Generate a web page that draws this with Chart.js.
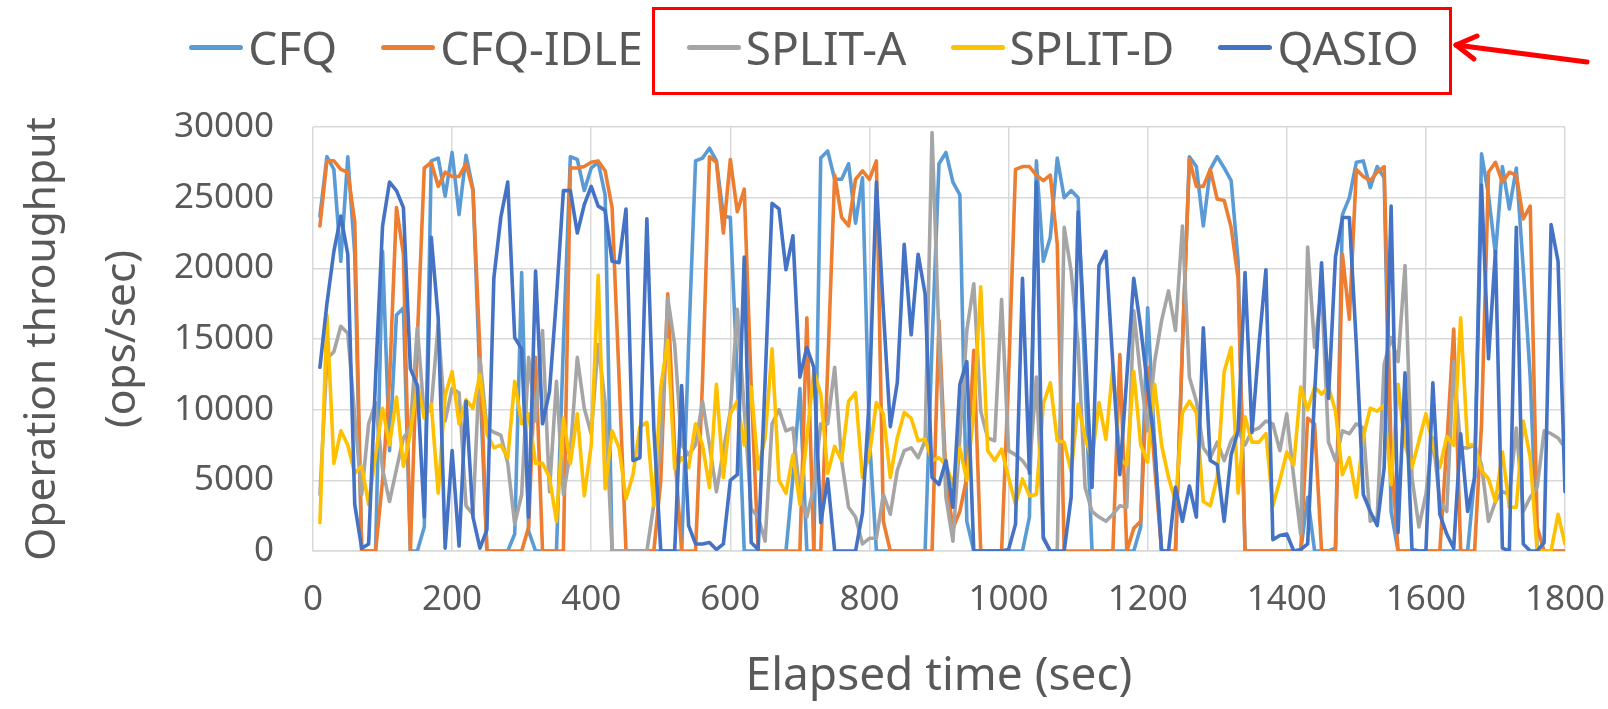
<!DOCTYPE html>
<html>
<head>
<meta charset="utf-8">
<title>Operation throughput</title>
<script src="https://cdn.jsdelivr.net/npm/chart.js@4.4.1/dist/chart.umd.min.js"></script>
<style>
  body { margin: 0; background: #fff; font-family: 'Noto Sans', sans-serif; }
  #wrap { position: relative; width: 1608px; height: 709px; overflow: hidden; }
  #chart { position: absolute; left: 0; top: 0; }
  #legend {
    position: absolute; left: 0; top: 0; width: 1608px; height: 94px;
    display: flex; align-items: center; justify-content: center;
    font-size: 46px; line-height: 1; color: #595959;
  }
  .item { display: flex; align-items: center; margin: 0 22px; }
  .swatch { width: 54px; height: 5px; border-radius: 3px; margin-right: 5px; }
  #redbox {
    position: absolute; left: 652px; top: 7px; width: 800px; height: 88px;
    border: 3px solid #ff0000; box-sizing: border-box;
  }
  #arrow { position: absolute; left: 0; top: 0; }
</style>
</head>
<body>
<div id="wrap">
  <canvas id="chart" width="1608" height="709"></canvas>
  <div id="legend"></div>
  <div id="redbox"></div>
  <svg id="arrow" width="1608" height="110">
    <g stroke="#ff0000" stroke-width="5" stroke-linecap="round" stroke-linejoin="round" fill="none">
      <line x1="1587" y1="62" x2="1456" y2="45"></line>
      <polyline points="1477,36 1456,45 1474,59"></polyline>
    </g>
  </svg>
</div>
<script>
// ===================================
// DATA (sample every 10 s, 10..1800 s)
// ===================================
const sampleStep = 10;
const times = [];
for (let t = sampleStep; t <= 1800; t += sampleStep) times.push(t);

const seriesNames = ['CFQ', 'CFQ-IDLE', 'SPLIT-A', 'SPLIT-D', 'QASIO'];
const seriesColors = ['#5B9BD5', '#ED7D31', '#A5A5A5', '#FFC000', '#4472C4'];

const cfq = [
  23700, 27900, 27000, 20500, 27900, 21000, 0, 0, 0, 21200,
  7100, 16700, 17200, 0, 0, 1700, 27600, 27800, 25100, 28200,
  23800, 28000, 25600, 12000, 0, 0, 0, 0, 1200, 19700,
  1400, 0, 0, 0, 0, 14600, 27900, 27700, 25500, 27100,
  27500, 25200, 0, 0, 0, 0, 0, 0, 0, 0,
  0, 0, 0, 14600, 27600, 27800, 28500, 27600, 23700, 23600,
  12300, 0, 0, 0, 0, 0, 0, 0, 5200, 11500,
  0, 0, 27800, 28300, 26300, 26300, 27400, 23200, 26400, 8000,
  0, 0, 0, 0, 0, 0, 0, 0, 14600, 27400,
  28200, 26100, 25200, 2100, 0, 0, 0, 0, 0, 0,
  0, 0, 2400, 27600, 20500, 22200, 27800, 25000, 25500, 25000,
  12000, 0, 0, 0, 0, 0, 0, 0, 1700, 17200,
  7500, 0, 0, 0, 14600, 27900, 27200, 23000, 27000, 27900,
  27100, 26200, 20500, 0, 0, 0, 0, 0, 0, 0,
  0, 0, 3800, 0, 0, 0, 200, 23800, 25000, 27500,
  27600, 25700, 27200, 26400, 2800, 0, 0, 0, 0, 0,
  0, 0, 0, 0, 0, 0, 5200, 28100, 25200, 21000,
  27200, 24200, 27100, 20000, 12300, 0, 0, 0, 0, 0
];

const cfqIdle = [
  23000, 27600, 27600, 27000, 26800, 23300, 0, 0, 0, 5000,
  12000, 24300, 21000, 0, 15000, 27100, 27500, 25800, 26800, 26500,
  26500, 27400, 25500, 14100, 0, 0, 0, 0, 0, 0,
  1700, 13700, 0, 0, 0, 0, 27100, 27100, 27200, 27500,
  27600, 26900, 24300, 12300, 0, 0, 0, 0, 0, 5000,
  18200, 7000, 0, 0, 0, 12000, 27900, 27500, 22500, 27700,
  24000, 25600, 11600, 0, 0, 0, 0, 0, 0, 0,
  16500, 0, 0, 13000, 26600, 23600, 23000, 26300, 26900, 26300,
  27600, 2100, 0, 0, 0, 0, 0, 0, 0, 16300,
  5200, 1600, 2800, 5200, 14200, 0, 0, 0, 0, 12300,
  27000, 27200, 27200, 26600, 26200, 26600, 21700, 0, 0, 0,
  0, 0, 0, 0, 0, 13900, 0, 1600, 2100, 13000,
  6000, 0, 0, 0, 14600, 27700, 25800, 25800, 27000, 24900,
  24800, 22900, 19300, 0, 0, 0, 0, 0, 0, 0,
  0, 0, 9400, 9000, 0, 0, 0, 21000, 16400, 27000,
  26500, 26200, 26800, 27200, 7000, 0, 0, 0, 0, 0,
  0, 0, 7500, 15700, 0, 0, 0, 9000, 26800, 27500,
  26100, 26800, 26600, 23500, 24400, 1700, 0, 0, 0, 0
];

const splitA = [
  4000, 13600, 14100, 15900, 15400, 9500, 4000, 9000, 10500, 5800,
  3500, 5800, 8000, 8700, 15800, 9500, 10200, 16000, 9200, 11500,
  11200, 3200, 2600, 13600, 8700, 8400, 8200, 6200, 1900, 4000,
  13700, 9200, 15600, 4200, 12000, 4000, 7000, 13700, 10100, 8300,
  14600, 10500, 0, 0, 0, 0, 0, 0, 3300, 7500,
  17900, 14600, 7500, 6800, 7500, 10600, 7500, 4200, 7100, 9900,
  17100, 10000, 3000, 2400, 700, 9000, 10000, 8500, 8700, 4000,
  2400, 4500, 9000, 9000, 13000, 6400, 3100, 2400, 500, 900,
  900, 4000, 2600, 5700, 7100, 7300, 6600, 7800, 29600, 15000,
  3800, 700, 8000, 15600, 18900, 9900, 8000, 7800, 17800, 7100,
  6800, 6400, 5700, 12300, 1000, 0, 0, 22900, 19800, 14600,
  4500, 2800, 2400, 2100, 2600, 3200, 3100, 17000, 12300, 8500,
  13400, 16300, 18400, 15600, 23000, 12300, 10600, 7300, 6600, 7700,
  6400, 7800, 8500, 7500, 8500, 8700, 9200, 9000, 7100, 9700,
  5200, 1200, 21500, 14400, 18600, 7700, 6400, 8500, 8300, 9000,
  8700, 2100, 2400, 13200, 15100, 13400, 20200, 5200, 1700, 4000,
  8000, 3500, 2800, 13400, 7300, 7300, 7500, 6100, 2100, 3500,
  4200, 4000, 8700, 2800, 3800, 4500, 8500, 8300, 8000, 7300
];

const splitD = [
  2000, 16700, 6200, 8500, 7500, 5500, 6000, 3300, 6800, 10100,
  7500, 10900, 6000, 8300, 11800, 9400, 10400, 4100, 11000, 12700,
  9000, 10700, 10100, 12500, 8300, 7300, 7500, 6600, 12000, 9000,
  9700, 6200, 6200, 5200, 2100, 9400, 6200, 9700, 3900, 7500,
  19500, 4400, 8500, 7300, 3700, 5400, 8800, 9100, 3200, 11600,
  14900, 5800, 6600, 5900, 9000, 7500, 4500, 11800, 5200, 9700,
  10600, 7500, 11600, 5800, 8000, 14300, 5000, 4100, 6800, 3300,
  8000, 12700, 11100, 5500, 7400, 6400, 10600, 11200, 5200, 6800,
  10500, 9700, 5200, 8000, 9800, 9400, 7800, 7900, 6400, 6600,
  6100, 4700, 7300, 5000, 9900, 18700, 7100, 6400, 7200, 5200,
  3300, 5100, 3900, 4000, 10400, 11900, 7800, 7700, 5600, 10400,
  8000, 6500, 10500, 7900, 13000, 6500, 6100, 12700, 7500, 6300,
  11800, 7500, 5200, 3500, 9800, 10600, 9800, 3500, 3200, 5200,
  12700, 14400, 4100, 9500, 7700, 7700, 8300, 3200, 5000, 7000,
  6100, 11600, 10000, 11600, 11100, 11600, 9900, 5400, 6600, 3800,
  8100, 10100, 9900, 10300, 4700, 11800, 7500, 5900, 7800, 9700,
  7500, 5900, 8100, 7500, 16500, 7500, 7500, 5700, 5100, 3500,
  7000, 3100, 3100, 9200, 6600, 0, 0, 0, 2600, 500
];

const qasio = [
  13000, 17500, 21200, 23700, 21000, 3300, 200, 500, 12300, 23000,
  26100, 25500, 24300, 12900, 11700, 2400, 22200, 16500, 200, 7100,
  350, 10600, 2400, 200, 1500, 19300, 23600, 26100, 15100, 14300,
  2400, 19800, 9000, 11300, 17900, 25500, 25500, 22500, 24500, 25800,
  24400, 24100, 20500, 20400, 24200, 6400, 6600, 23500, 8700, 0,
  0, 0, 11700, 1800, 500, 500, 600, 100, 500, 5000,
  5400, 20800, 600, 100, 12000, 24600, 24200, 19900, 22300, 12300,
  14400, 13000, 2000, 5100, 0, 0, 0, 0, 2700, 11000,
  26100, 17000, 8800, 11900, 21700, 15300, 21000, 18200, 5200, 4700,
  6400, 3100, 11800, 13400, 0, 0, 0, 0, 0, 100,
  1900, 19300, 5500, 26100, 900, 0, 0, 0, 3800, 24000,
  14600, 4500, 20200, 21200, 13200, 5400, 12300, 19300, 15800, 11600,
  7500, 0, 0, 4500, 2100, 4600, 2400, 15800, 6400, 6100,
  2100, 6800, 8500, 19700, 8400, 14600, 19900, 800, 1100, 1200,
  0, 100, 500, 11100, 20400, 10800, 20800, 23600, 23600, 14600,
  4000, 2800, 1800, 5900, 24400, 1300, 12600, 100, 0, 0,
  11900, 2600, 1200, 200, 8300, 2800, 5200, 25900, 13600, 21200,
  200, 0, 22900, 500, 0, 0, 600, 23100, 20500, 4200
];

const seriesValues = [cfq, cfqIdle, splitA, splitD, qasio];

const xTicks = { min: 0, max: 1800, step: 200 };
const yTicks = { min: 0, max: 30000, step: 5000 };

// ===================================
// CHART
// ===================================
const textColor = '#595959';
const gridColor = '#D9D9D9';
Chart.defaults.font.family = "'Noto Sans', sans-serif";
Chart.defaults.color = textColor;

const datasets = seriesNames.map((name, i) => ({
  label: name,
  data: seriesValues[i].map((v, k) => ({ x: times[k], y: v })),
  borderColor: seriesColors[i],
  backgroundColor: seriesColors[i],
  borderWidth: 3.6,
  borderJoinStyle: 'round',
  borderCapStyle: 'round',
  pointRadius: 0,
  tension: 0,
  order: seriesNames.length - i   // later series on top, like Excel
}));

const ctx = document.getElementById('chart').getContext('2d');
new Chart(ctx, {
  type: 'line',
  data: { datasets: datasets },
  options: {
    responsive: false,
    animation: false,
    devicePixelRatio: 1,
    layout: { padding: { top: 127, right: 43, left: 0, bottom: 0 } },
    plugins: { legend: { display: false }, tooltip: { enabled: false } },
    scales: {
      x: {
        type: 'linear',
        min: xTicks.min,
        max: xTicks.max,
        ticks: { stepSize: xTicks.step, padding: 28, font: { size: 35 }, color: textColor, maxRotation: 0, callback: v => String(v) },
        grid: { color: gridColor, lineWidth: 1.5, drawTicks: false },
        border: { color: gridColor, width: 1.5 },
        title: {
          display: true, text: 'Elapsed time (sec)', color: textColor,
          font: { size: 46, lineHeight: 1.2 }, padding: { top: 0, bottom: 5 }
        },
        afterFit: s => { s.height = 158; s.paddingLeft = 0; s.paddingRight = 0; }
      },
      y: {
        min: yTicks.min,
        max: yTicks.max,
        ticks: { stepSize: yTicks.step, padding: 39, font: { size: 35 }, color: textColor, callback: v => String(v) },
        grid: { color: gridColor, lineWidth: 1.5, drawTicks: false },
        border: { display: false },
        title: {
          display: true, text: ['Operation throughput', '(ops/sec)'], color: textColor,
          font: { size: 42.5, lineHeight: 1.88 }, padding: { top: 3, bottom: 0 }
        },
        afterFit: s => { s.width = 313; s.paddingTop = 0; s.paddingBottom = 0; }
      }
    }
  }
});

// ===================================
// LEGEND (html, built from the series)
// ===================================
const legend = document.getElementById('legend');
seriesNames.forEach((name, i) => {
  const item = document.createElement('div');
  item.className = 'item';
  const sw = document.createElement('span');
  sw.className = 'swatch';
  sw.style.background = seriesColors[i];
  const label = document.createElement('span');
  label.textContent = name;
  item.appendChild(sw);
  item.appendChild(label);
  legend.appendChild(item);
});
</script>
</body>
</html>
